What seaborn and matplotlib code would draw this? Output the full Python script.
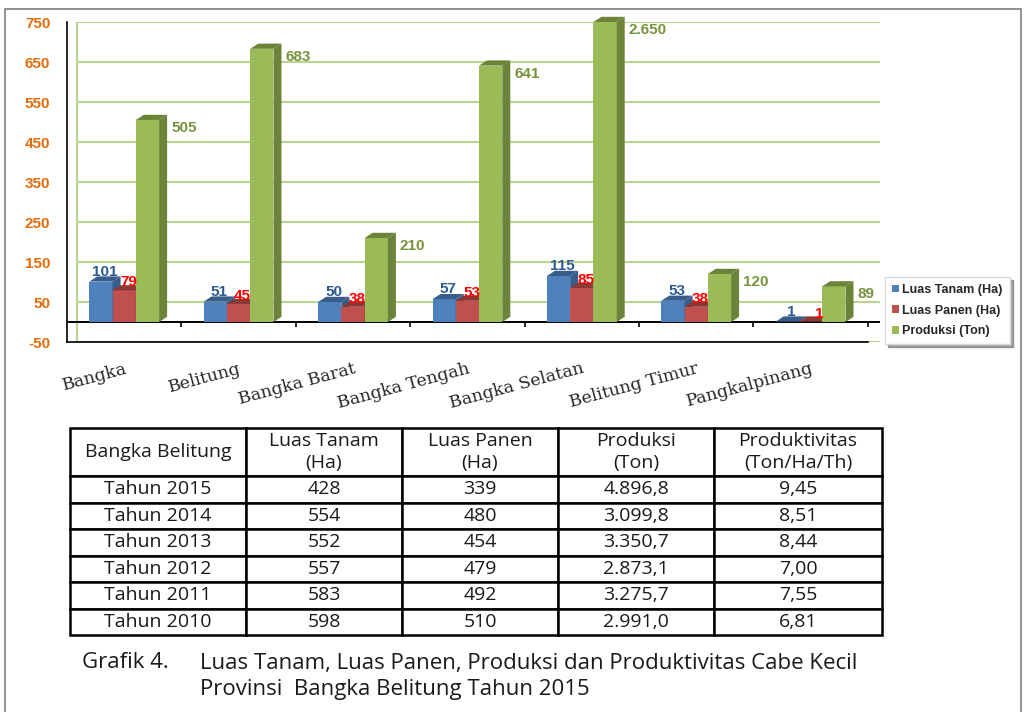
import numpy as np
import pandas as pd
import matplotlib
matplotlib.use('Agg')
import matplotlib.pyplot as plt
import matplotlib.transforms as mtransforms
from matplotlib.patches import Polygon, Rectangle
import seaborn as sns

# Data grafik
kabupaten = ['Bangka', 'Belitung', 'Bangka Barat', 'Bangka Tengah',
             'Bangka Selatan', 'Belitung Timur', 'Pangkalpinang']
luas_tanam = [101, 51, 50, 57, 115, 53, 1]
luas_panen = [79, 45, 38, 53, 85, 38, 1]
produksi = [505, 683, 210, 641, 2650, 120, 89]
seri = ['Luas Tanam (Ha)', 'Luas Panen (Ha)', 'Produksi (Ton)']
y_ticks = [-50, 50, 150, 250, 350, 450, 550, 650, 750]

# Data tabel
tabel_kolom = ['Bangka Belitung', 'Luas Tanam\n(Ha)', 'Luas Panen\n(Ha)',
               'Produksi\n(Ton)', 'Produktivitas\n(Ton/Ha/Th)']
tahun = ['Tahun 2015', 'Tahun 2014', 'Tahun 2013', 'Tahun 2012', 'Tahun 2011', 'Tahun 2010']
tabel_tanam = ['428', '554', '552', '557', '583', '598']
tabel_panen = ['339', '480', '454', '479', '492', '510']
tabel_produksi = ['4.896,8', '3.099,8', '3.350,7', '2.873,1', '3.275,7', '2.991,0']
tabel_produktivitas = ['9,45', '8,51', '8,44', '7,00', '7,55', '6,81']

judul_nomor = 'Grafik 4.'
judul_1 = 'Luas Tanam, Luas Panen, Produksi dan Produktivitas Cabe Kecil'
judul_2 = 'Provinsi  Bangka Belitung Tahun 2015'

warna = ['#4F81BD', '#C0504D', '#9BBB59']
warna_sisi = ['#385D8A', '#8C3836', '#6B8439']
warna_label = ['#2C5A94', '#FF0000', '#77933C']
warna_grid = '#B9D58E'
warna_tick = '#E46C0A'

W, H = 1025, 712


def fmt_angka(v):
    """Format angka dengan titik ribuan"""
    return f"{v:,}".replace(',', '.')


def gambar_grafik(fig):
    ymin, ymax = y_ticks[0], y_ticks[-1]
    ax = fig.add_axes([67 / W, 1 - 342 / H, 813 / W, 320 / H])

    df = pd.DataFrame({
        'Kabupaten': kabupaten * 3,
        'Seri': np.repeat(seri, len(kabupaten)),
        'Nilai': luas_tanam + luas_panen + produksi,
    })
    # bar yang melebihi skala dipotong di batas atas sumbu
    df['Tinggi'] = np.minimum(df['Nilai'], ymax)

    sns.barplot(data=df, x='Kabupaten', y='Tinggi', hue='Seri', hue_order=seri,
                palette=warna, width=0.61, saturation=1, linewidth=0, ax=ax)

    ax.set_ylim(ymin, ymax)
    ax.set_xlim(-0.5, -0.5 + 813 / 114.4)
    ax.set_yticks(y_ticks)
    ax.set_xlabel('')
    ax.set_ylabel('')

    # efek 3D
    dx, dy = 0.07, 13
    nilai_seri = [luas_tanam, luas_panen, produksi]
    for i, cont in enumerate(ax.containers):
        for bar, val in zip(cont, nilai_seri[i]):
            x0, w, h = bar.get_x(), bar.get_width(), bar.get_height()
            bar.set_zorder(3 + i)
            side = Polygon([(x0 + w, 0), (x0 + w + dx, dy), (x0 + w + dx, h + dy), (x0 + w, h)],
                           closed=True, facecolor=warna_sisi[i], edgecolor='none',
                           zorder=3 + i + 0.5, clip_on=False)
            top = Polygon([(x0, h), (x0 + dx, h + dy), (x0 + w + dx, h + dy), (x0 + w, h)],
                          closed=True, facecolor=warna_sisi[i], edgecolor='none',
                          zorder=3 + i + 0.5, clip_on=False)
            ax.add_patch(side)
            ax.add_patch(top)
            cx = x0 + w / 2
            if i == 0:
                ax.annotate(str(val), (cx, h), xytext=(4, 10), textcoords='offset pixels',
                            ha='center', va='center', color=warna_label[i],
                            fontsize=11, fontweight='bold', zorder=10)
            elif i == 1:
                ax.annotate(str(val), (x0 + w, h), xytext=(1, 8), textcoords='offset pixels',
                            ha='right', va='center', color=warna_label[i],
                            fontsize=11, fontweight='bold', zorder=10)
            else:
                ax.annotate(fmt_angka(val), (x0 + w + dx, h), xytext=(4, -8),
                            textcoords='offset pixels', ha='left', va='center',
                            color=warna_label[i], fontsize=11, fontweight='bold', zorder=10)

    # garis grid dinding belakang
    geser = mtransforms.offset_copy(ax.transAxes, fig=fig, x=10, y=0, units='dots')
    for yt in y_ticks:
        ax.axhline(yt, xmin=10 / 813, xmax=1, color=warna_grid, lw=1.5, zorder=1)
    ax.plot([0, 0], [0, 1], transform=geser, color=warna_grid, lw=1.5, zorder=1)

    # garis nol dan tanda kategori
    ax.axhline(0, xmin=0, xmax=1, color='black', lw=1.4, zorder=2)
    batas = np.arange(len(kabupaten)) + 0.5
    ax.vlines(batas, -12, 0, color='black', lw=1.2, zorder=2)

    for s in ['top', 'right']:
        ax.spines[s].set_visible(False)
    ax.spines['left'].set_color('black')
    ax.spines['left'].set_linewidth(1.2)
    ax.spines['bottom'].set_color('black')
    ax.spines['bottom'].set_linewidth(1.2)
    ax.spines['bottom'].set_bounds(-0.5, len(kabupaten) - 0.5)

    ax.tick_params(axis='y', length=0, pad=12, labelsize=11, labelcolor=warna_tick)
    for t in ax.get_yticklabels():
        t.set_fontweight('bold')
        t.set_family('Liberation Sans')
    ax.set_xticks(range(len(kabupaten)))
    ax.set_xticklabels(kabupaten, rotation=15, ha='right', rotation_mode='anchor',
                       fontfamily='DejaVu Serif', fontsize=12.5)
    ax.tick_params(axis='x', length=0, pad=13)

    sns.move_legend(ax, 'upper left', bbox_to_anchor=(885 / W, 1 - 277 / H),
                    bbox_transform=fig.transFigure, title=None, frameon=True,
                    fontsize=9, handlelength=0.55, handleheight=0.55, handletextpad=0.3,
                    labelspacing=0.7, borderpad=0.55, borderaxespad=0, fancybox=False,
                    shadow=True, edgecolor='#D9D9D9')
    for t in ax.get_legend().get_texts():
        t.set_fontweight('bold')
    return ax


def gambar_tabel(fig):
    tax = fig.add_axes([70 / W, 1 - 635 / H, 812 / W, 207 / H])
    tax.axis('off')
    baris = [list(r) for r in zip(tahun, tabel_tanam, tabel_panen,
                                   tabel_produksi, tabel_produktivitas)]
    lebar = np.array([176, 156, 156, 156, 168], dtype=float)
    tbl = tax.table(cellText=baris, colLabels=tabel_kolom, cellLoc='center',
                    colWidths=list(lebar / lebar.sum()), bbox=[0, 0, 1, 1])
    tbl.auto_set_font_size(False)
    tbl.set_fontsize(14)
    for (r, c), cell in tbl.get_celld().items():
        cell.set_edgecolor('black')
        cell.set_linewidth(1.8)
        cell.set_height(48 if r == 0 else 26.5)
        txt = cell.get_text()
        txt.set_family('Open Sans')
        txt.set_color('#1A1A1A')
        txt.set_linespacing(1.3)
    return tbl


def main():
    sns.set_style('white')
    plt.rcParams['font.family'] = ['Liberation Sans', 'DejaVu Sans']
    plt.rcParams['axes.unicode_minus'] = False

    fig = plt.figure(figsize=(W / 100, H / 100), dpi=100)
    fig.patches.append(Rectangle((5 / W, -0.01), 1016 / W, 1 - 9 / H + 0.01,
                                 transform=fig.transFigure, fill=False,
                                 edgecolor='#7F7F7F', lw=1.2))

    gambar_grafik(fig)
    gambar_tabel(fig)

    fig.text(82 / W, 1 - 663 / H, judul_nomor, va='center', fontsize=16,
             family='Open Sans', color='#1A1A1A')
    fig.text(200 / W, 1 - 663 / H, judul_1, va='center', fontsize=16,
             family='Open Sans', color='#1A1A1A')
    fig.text(200 / W, 1 - 690 / H, judul_2, va='center', fontsize=16,
             family='Open Sans', color='#1A1A1A')

    fig.savefig('out.png', dpi=100)
    plt.close(fig)


if __name__ == "__main__":
    main()
